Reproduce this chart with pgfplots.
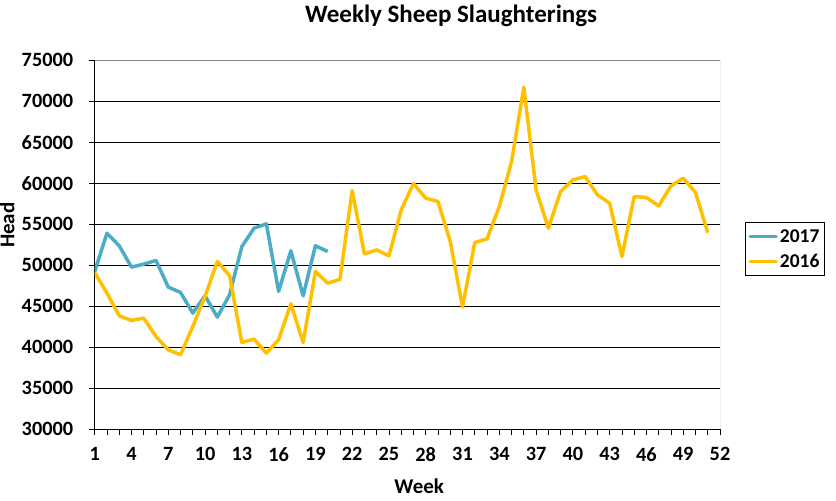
\documentclass[border=0pt]{standalone}
\usepackage{fontspec}
\setmainfont{Carlito}
\usepackage{pgfplots}
\pgfplotsset{compat=1.18}
\definecolor{c2017}{HTML}{4BACC6}
\definecolor{c2016}{HTML}{FFC000}
\definecolor{frame}{HTML}{868686}

\begin{document}
\begin{tikzpicture}[x=1pt,y=1pt]
\useasboundingbox (0,0) rectangle (836,501);
\begin{axis}[
    at={(94.7pt,72pt)}, anchor=south west,
    scale only axis, width=625.3pt, height=368.7pt,
    xmin=1, xmax=52, ymin=30000, ymax=75000,
    axis x line=bottom, axis y line=left,
    axis line style={-, black, line width=1pt},
    xtick={1,4,...,52}, minor xtick={1,...,52},
    ytick={30000,35000,...,75000},
    tick align=outside,
    major tick length=6pt, minor tick length=6pt,
    tick style={black, line width=0.8pt},
    ymajorgrids, grid style={black, line width=1pt},
    /pgf/number format/assume math mode=true,
    scaled y ticks=false,
    yticklabel={\pgfmathprintnumber[fixed,precision=0,1000 sep={}]{\tick}},
    ticklabel style={font=\bfseries\fontsize{20.3}{21}\selectfont},
    yticklabel style={xshift=-12pt},
    xticklabel style={yshift=-9pt},
    title={Weekly Sheep Slaughterings},
    title style={at={(axis description cs:0.570,1.0876)}, anchor=base,
        font=\bfseries\fontsize{25}{27}\selectfont},
    xlabel={Week},
    xlabel style={at={(axis description cs:0.519,-0.155)}, anchor=center,
        font=\bfseries\fontsize{21}{22}\selectfont},
    ylabel={Head},
    ylabel style={at={(axis description cs:-0.140,0.553)}, anchor=center,
        font=\bfseries\fontsize{21}{22}\selectfont},
    legend style={at={(axis description cs:1.040,0.561)}, anchor=north west,
        draw=black, line width=0.8pt, inner xsep=3pt, inner ysep=5pt,
        row sep=6pt, cells={anchor=west},
        font=\bfseries\fontsize{19.5}{20}\selectfont},
    legend image code/.code={\draw[#1, line width=3.5pt, line cap=round] (0pt,0pt) -- (26pt,0pt);},
    every axis plot/.append style={line width=3.5pt, line join=round, mark=none},
]
\addplot[c2017] coordinates {
(1,49230) (2,53900) (3,52360) (4,49760) (5,50120) (6,50570) (7,47320)
(8,46670) (9,44150) (10,46260) (11,43660) (12,46380) (13,52270) (14,54510)
(15,55040) (16,46790) (17,51750) (18,46260) (19,52360) (20,51670)
};
\addlegendentry{2017}
\addplot[c2016] coordinates {
(1,49100) (2,46590) (3,43820) (4,43250) (5,43530) (6,41290) (7,39670)
(8,39060) (9,42520) (10,46180) (11,50450) (12,48740) (13,40560) (14,40970)
(15,39260) (16,40890) (17,45290) (18,40560) (19,49230) (20,47800)
(21,48250) (22,59100) (23,51370) (24,51860) (25,51130) (26,56750)
(27,59950) (28,58170) (29,57760) (30,52880) (31,44880) (32,52760)
(33,53210) (34,57150) (35,62640) (36,71710) (37,59190) (38,54510)
(39,58980) (40,60410) (41,60810) (42,58580) (43,57560) (44,51050)
(45,58370) (46,58250) (47,57230) (48,59670) (49,60610) (50,58860)
(51,53980)
};
\addlegendentry{2016}
\draw[frame, line width=1pt] (rel axis cs:0,1) -- (rel axis cs:1,1) -- (rel axis cs:1,0);
\end{axis}
\end{tikzpicture}
\end{document}
